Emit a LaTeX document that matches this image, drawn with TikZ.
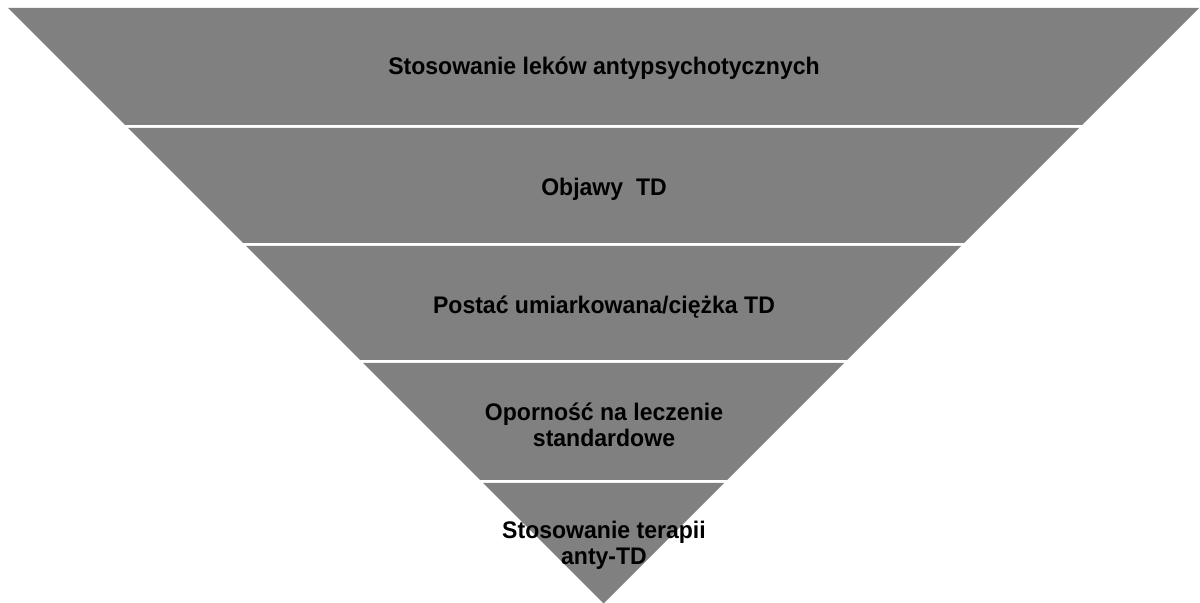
\documentclass[tikz,border=0pt]{standalone}
\usepackage{fontspec}
\setmainfont[FakeStretch=0.96]{Liberation Sans}
\usetikzlibrary{calc}
\tikzset{
  % Funnel band: flat grey fill, no outline
  band/.style={fill=black!50, draw=none},
  % Band caption: bold, centred, may wrap to two lines
  bandlabel/.style={font=\fontsize{12}{13.2}\selectfont\bfseries, align=center,
                    text=black, inner sep=0pt}
}

\begin{document}
\begin{tikzpicture}[x=0.5pt, y=-0.5pt]
\useasboundingbox (0,0) rectangle (1200,603);

% ============== Funnel bands (top to bottom), white gaps between ==============
\fill[band] (8,8) -- (1199,8) -- (1082,125) -- (125,125) -- cycle;
\fill[band] (128,128) -- (1079,128) -- (964,243) -- (243,243) -- cycle;
\fill[band] (246,246) -- (961,246) -- (847,360) -- (360,360) -- cycle;
\fill[band] (363,363) -- (844,363) -- (727,480) -- (480,480) -- cycle;
\fill[band] (483,483) -- (724,483) -- (603.5,603.5) -- cycle;

% ============== Captions ==============
\node[bandlabel] (lab1) at (604,68) {Stosowanie leków antypsychotycznych};
\node[bandlabel] (lab2) at (604,189) {Objawy\ \ TD};
\node[bandlabel] (lab3) at (604,307) {Postać umiarkowana/ciężka TD};
\node[bandlabel] (lab4) at (604,425) {Oporność na leczenie\\standardowe};
\node[bandlabel] (lab5) at (604,545) {Stosowanie terapii\\anty-TD};

\end{tikzpicture}
\end{document}
